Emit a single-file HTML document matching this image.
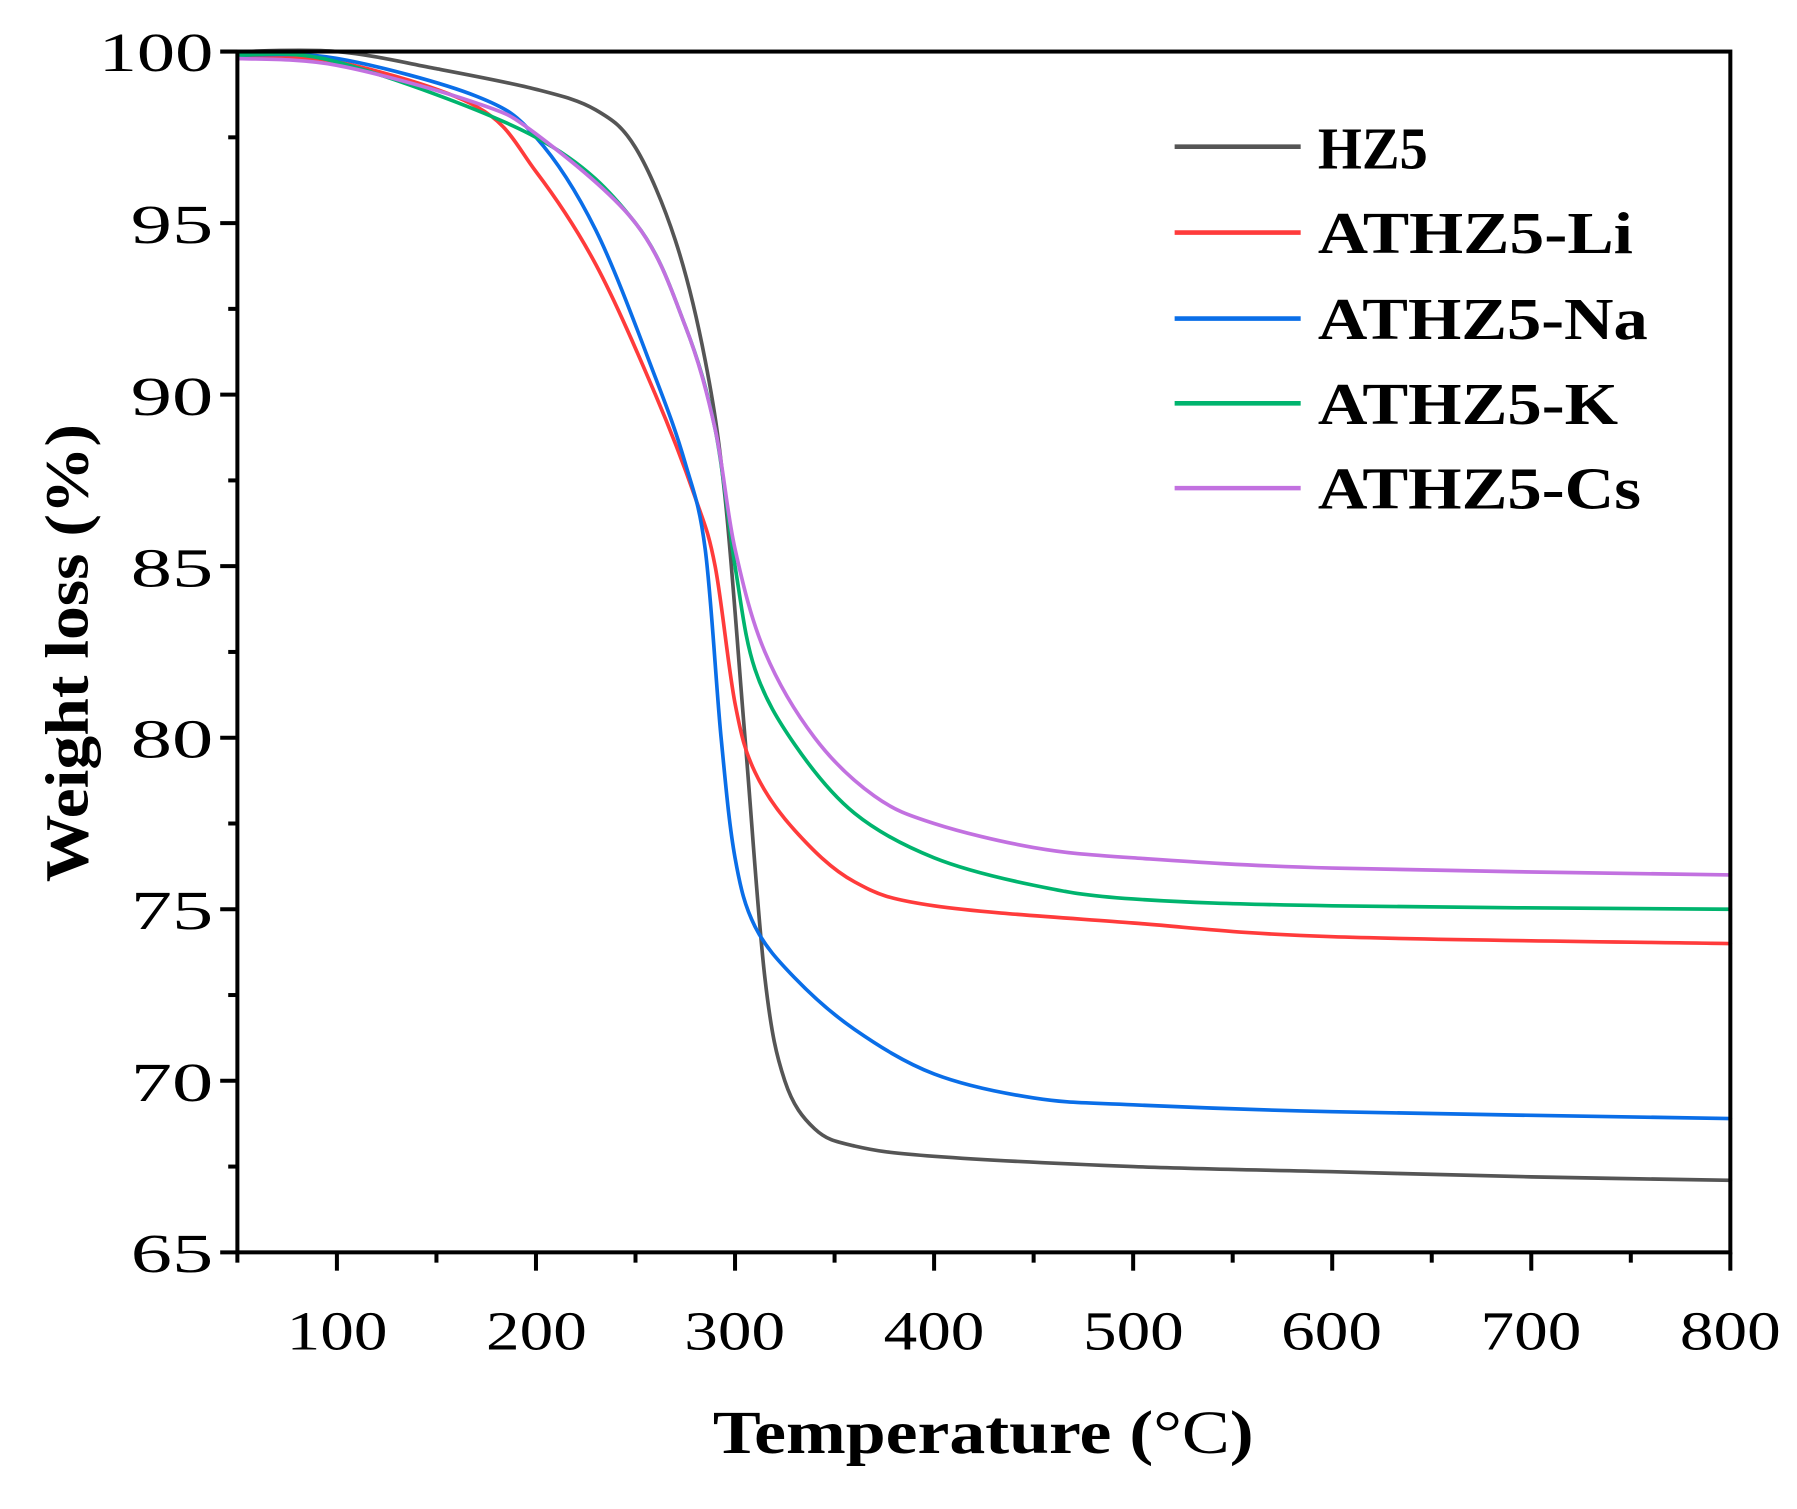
<!DOCTYPE html>
<html><head><meta charset="utf-8"><style>
html,body{margin:0;padding:0;background:#fff;}
svg{display:block;}
text{font-family:"Liberation Serif",serif;fill:#000;}
</style></head><body>
<svg id="s" width="1797" height="1509" viewBox="0 0 1568 1317" xmlns="http://www.w3.org/2000/svg">
<g id="curves" fill="none" stroke-width="3.2" stroke-linejoin="round" stroke-linecap="round"></g>
<rect x="207" y="45" width="1303" height="1048" fill="none" stroke="#000" stroke-width="3.5"/>
<g id="ticks" stroke="#000" stroke-width="3.5"></g>
<g font-size="48" text-anchor="end">
<text x="186" y="62" textLength="100" lengthAdjust="spacingAndGlyphs">100</text>
<text x="186" y="212" textLength="72" lengthAdjust="spacingAndGlyphs">95</text>
<text x="186" y="362" textLength="72" lengthAdjust="spacingAndGlyphs">90</text>
<text x="186" y="512" textLength="72" lengthAdjust="spacingAndGlyphs">85</text>
<text x="186" y="661" textLength="72" lengthAdjust="spacingAndGlyphs">80</text>
<text x="186" y="811" textLength="72" lengthAdjust="spacingAndGlyphs">75</text>
<text x="186" y="961" textLength="72" lengthAdjust="spacingAndGlyphs">70</text>
<text x="186" y="1110" textLength="72" lengthAdjust="spacingAndGlyphs">65</text>
</g>
<g font-size="48" text-anchor="middle">
<text x="294" y="1178" textLength="88" lengthAdjust="spacingAndGlyphs">100</text>
<text x="468" y="1178" textLength="88" lengthAdjust="spacingAndGlyphs">200</text>
<text x="641" y="1178" textLength="88" lengthAdjust="spacingAndGlyphs">300</text>
<text x="815" y="1178" textLength="88" lengthAdjust="spacingAndGlyphs">400</text>
<text x="989" y="1178" textLength="88" lengthAdjust="spacingAndGlyphs">500</text>
<text x="1162" y="1178" textLength="88" lengthAdjust="spacingAndGlyphs">600</text>
<text x="1336" y="1178" textLength="88" lengthAdjust="spacingAndGlyphs">700</text>
<text x="1510" y="1178" textLength="88" lengthAdjust="spacingAndGlyphs">800</text>
</g>
<text x="622" y="1268" font-size="54" font-weight="bold" textLength="472" lengthAdjust="spacingAndGlyphs">Temperature (<tspan font-weight="normal">°C</tspan>)</text>
<text transform="translate(76,570) rotate(-90)" font-size="54" font-weight="bold" text-anchor="middle" textLength="400" lengthAdjust="spacingAndGlyphs">Weight loss (%)</text>
<g stroke-width="4">
<line x1="1025" y1="128" x2="1135" y2="128" stroke="#555"/>
<line x1="1025" y1="203" x2="1135" y2="203" stroke="#ff3b3b"/>
<line x1="1025" y1="278" x2="1135" y2="278" stroke="#0a6ee8"/>
<line x1="1025" y1="352" x2="1135" y2="352" stroke="#00b46e"/>
<line x1="1025" y1="426" x2="1135" y2="426" stroke="#c271e0"/>
</g>
<g font-size="52" font-weight="bold">
<text x="1150" y="147" textLength="96" lengthAdjust="spacingAndGlyphs">HZ5</text>
<text x="1150" y="221" textLength="275" lengthAdjust="spacingAndGlyphs">ATHZ5-Li</text>
<text x="1150" y="296" textLength="288" lengthAdjust="spacingAndGlyphs">ATHZ5-Na</text>
<text x="1150" y="370" textLength="262" lengthAdjust="spacingAndGlyphs">ATHZ5-K</text>
<text x="1150" y="444" textLength="282" lengthAdjust="spacingAndGlyphs">ATHZ5-Cs</text>
</g>
</svg>
<script>
var X=function(t){return 207+(t-50)*1303/750;},Y=function(w){return 45+(100-w)*1048/35;};
var tk=document.getElementById('ticks'),h='';
for(var v=65;v<=100;v+=2.5){var y=Y(v),L=(v%5==0)?15:8;h+='<line x1="'+(207-L)+'" y1="'+y+'" x2="207" y2="'+y+'"/>';}
for(var t=50;t<=800;t+=50){var x=X(t),L=(t%100==0)?16:9;h+='<line x1="'+x+'" y1="1093" x2="'+x+'" y2="'+(1093+L)+'"/>';}
tk.innerHTML=h;
var D={
'#555':[[50,100],[100,100],[150,99.5],[200,98.9],[230,98.3],[250,97.2],[270,94.5],[285,91],[295,87],[305,80],[315,73],[325,70],[340,68.6],[360,68.1],[400,67.8],[500,67.5],[600,67.35],[700,67.2],[800,67.1]],
'#ff3b3b':[[50,99.8],[100,99.7],[170,98.4],[200,96.5],[230,93.8],[260,90],[280,87],[290,85],[300,81],[310,79],[330,77.3],[360,75.8],[400,75.1],[500,74.6],[600,74.2],[800,74]],
'#0a6ee8':[[50,99.9],[100,99.8],[170,98.7],[200,97.5],[230,94.8],[260,90.5],[275,88],[285,85.5],[293,80],[300,76.5],[310,74.5],[330,73],[360,71.5],[400,70.2],[450,69.5],[500,69.3],[600,69.1],[800,68.9]],
'#00b46e':[[50,99.9],[100,99.7],[200,97.5],[250,95],[275,92],[290,89],[300,85],[310,82],[330,79.8],[360,77.8],[400,76.5],[450,75.7],[500,75.3],[600,75.1],[800,75]],
'#c271e0':[[50,99.8],[100,99.6],[170,98.5],[200,97.6],[250,95],[275,92],[290,89],[300,85.5],[315,82.5],[340,80],[370,78.3],[400,77.5],[450,76.8],[500,76.5],[600,76.2],[800,76]]};
var g='';
for(var c in D){var p=D[c].map(function(a){return [X(a[0]),Y(a[1])];});
var d='M'+p[0][0]+','+p[0][1];
for(var i=0;i<p.length-1;i++){var p0=p[i>0?i-1:i],p1=p[i],p2=p[i+1],p3=p[i+2<p.length?i+2:i+1];
d+=' C'+(p1[0]+(p2[0]-p0[0])/6)+','+(p1[1]+(p2[1]-p0[1])/6)+' '+(p2[0]-(p3[0]-p1[0])/6)+','+(p2[1]-(p3[1]-p1[1])/6)+' '+p2[0]+','+p2[1];}
g+='<path d="'+d+'" stroke="'+c+'"/>';}
document.getElementById('curves').innerHTML=g;
</script>
</body></html>
